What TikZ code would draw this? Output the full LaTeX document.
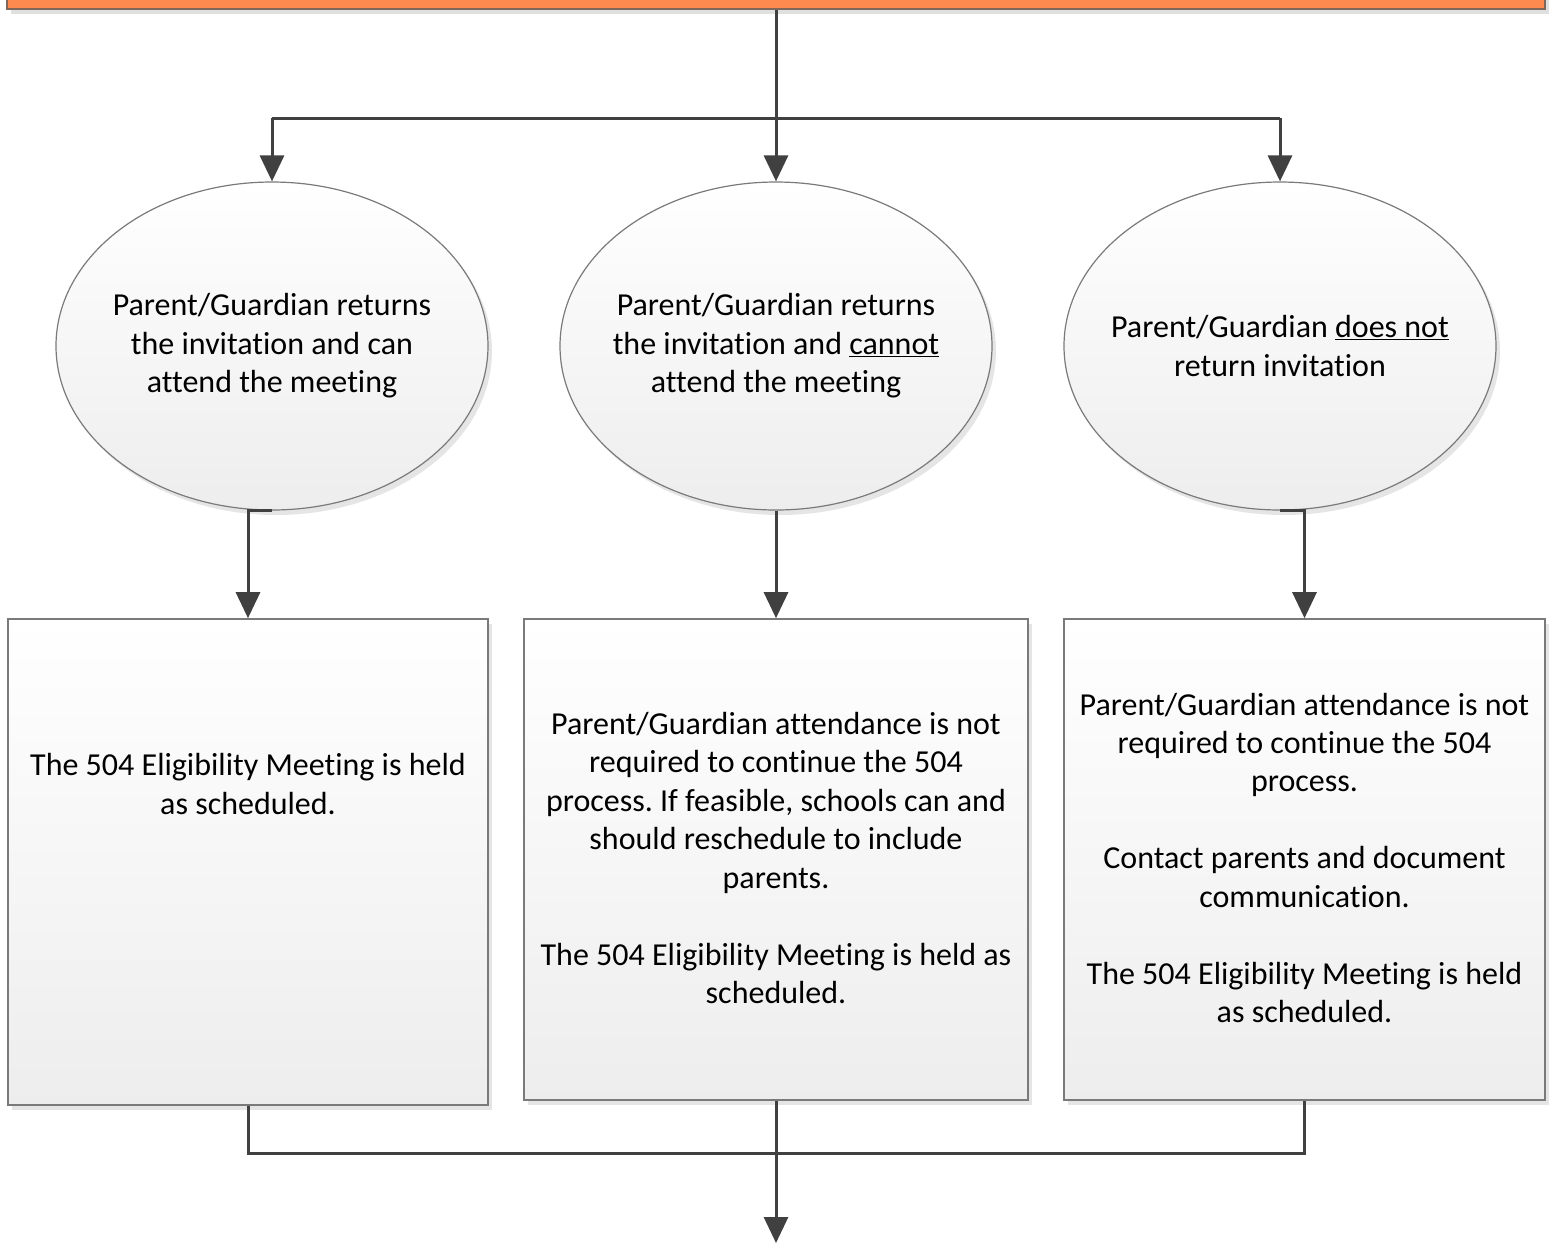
\documentclass[tikz,border=0pt]{standalone}
\usepackage{fontspec}
\setmainfont[Ligatures=NoCommon]{Carlito}
\usepackage{tikz}
\usetikzlibrary{shapes.geometric,shadows,arrows.meta}
\definecolor{linegray}{HTML}{404040}
\definecolor{edgegray}{HTML}{7A7A7A}
\definecolor{barorange}{HTML}{FF8A50}
\definecolor{baredge}{HTML}{806858}
\frenchspacing

\begin{document}
\begin{tikzpicture}[x=1pt,y=-1pt,
    font=\fontsize{32}{38.5}\selectfont,
    shade/.style={drop shadow={shadow xshift=4pt,shadow yshift=-5pt,fill=black!10,opacity=1}},
    bubble/.style={ellipse,draw=edgegray,line width=1.2pt,top color=white,bottom color=black!7,
        minimum width=432pt,minimum height=328pt,inner sep=0pt,shade},
    panel/.style={rectangle,draw=edgegray,line width=1.6pt,top color=white,bottom color=black!7,
        inner sep=0pt,shade},
    words/.style={align=center,inner sep=0pt},
    link/.style={draw=linegray,line width=3pt},
    tip/.style={-{Triangle[length=26pt,width=24pt]}}]
    \useasboundingbox (0,0) rectangle (1551,1243);
    \node[rectangle,draw=baredge,line width=2pt,fill=barorange,minimum width=1538pt,minimum height=40pt,
        drop shadow={shadow xshift=4pt,shadow yshift=-5pt,fill=black!12,opacity=1}] (bar) at (776,-11) {};
    \node[bubble] (e1) at (272,346) {};
    \node[bubble] (e2) at (776,346) {};
    \node[bubble] (e3) at (1280,346) {};
    \node[words] (q1) at (e1) {Parent/Guardian returns\\the invitation and can\\attend the meeting};
    \node[words] (q2) at (e2) {Parent/Guardian returns\\the invitation and \underline{cannot}\\attend the meeting};
    \node[words] (q3) at (e3) {Parent/Guardian \underline{does not}\\return invitation};
    \node[panel,minimum width=480pt,minimum height=486pt] (b1) at (248,862) {};
    \node[panel,minimum width=504pt,minimum height=481pt] (b2) at (776,859.5) {};
    \node[panel,minimum width=481pt,minimum height=481pt] (b3) at (1304.5,859.5) {};
    \node[words] (t1) at (248,784) {The 504 Eligibility Meeting is held\\as scheduled.};
    \node[words] (t2) at (776,858) {Parent/Guardian attendance is not\\required to continue the 504\\process. If feasible, schools can and\\should reschedule to include\\parents.\\[38.5pt]The 504 Eligibility Meeting is held as\\scheduled.};
    \node[words] (t3) at (1304.5,858) {Parent/Guardian attendance is not\\required to continue the 504\\process.\\[38.5pt]Contact parents and document\\communication.\\[38.5pt]The 504 Eligibility Meeting is held\\as scheduled.};
    \coordinate (split) at (776,118);
    \coordinate (join) at (776,1153);
    \coordinate (out) at (776,1243);
    \draw[link] (bar.south) -- (split);
    \draw[link] (e1.north |- split) -- (e3.north |- split);
    \draw[link,tip] (e1.north |- split) -- (e1.north);
    \draw[link,tip] (split) -- (e2.north);
    \draw[link,tip] (e3.north |- split) -- (e3.north);
    \draw[link,tip] (e1.south) -- (e1.south -| b1.north) -- (b1.north);
    \draw[link,tip] (e2.south) -- (b2.north);
    \draw[link,tip] (e3.south) -- (e3.south -| b3.north) -- (b3.north);
    \draw[link] (b1.south) |- (join) -| (b3.south);
    \draw[link,tip] (b2.south) -- (out);
\end{tikzpicture}
\end{document}
